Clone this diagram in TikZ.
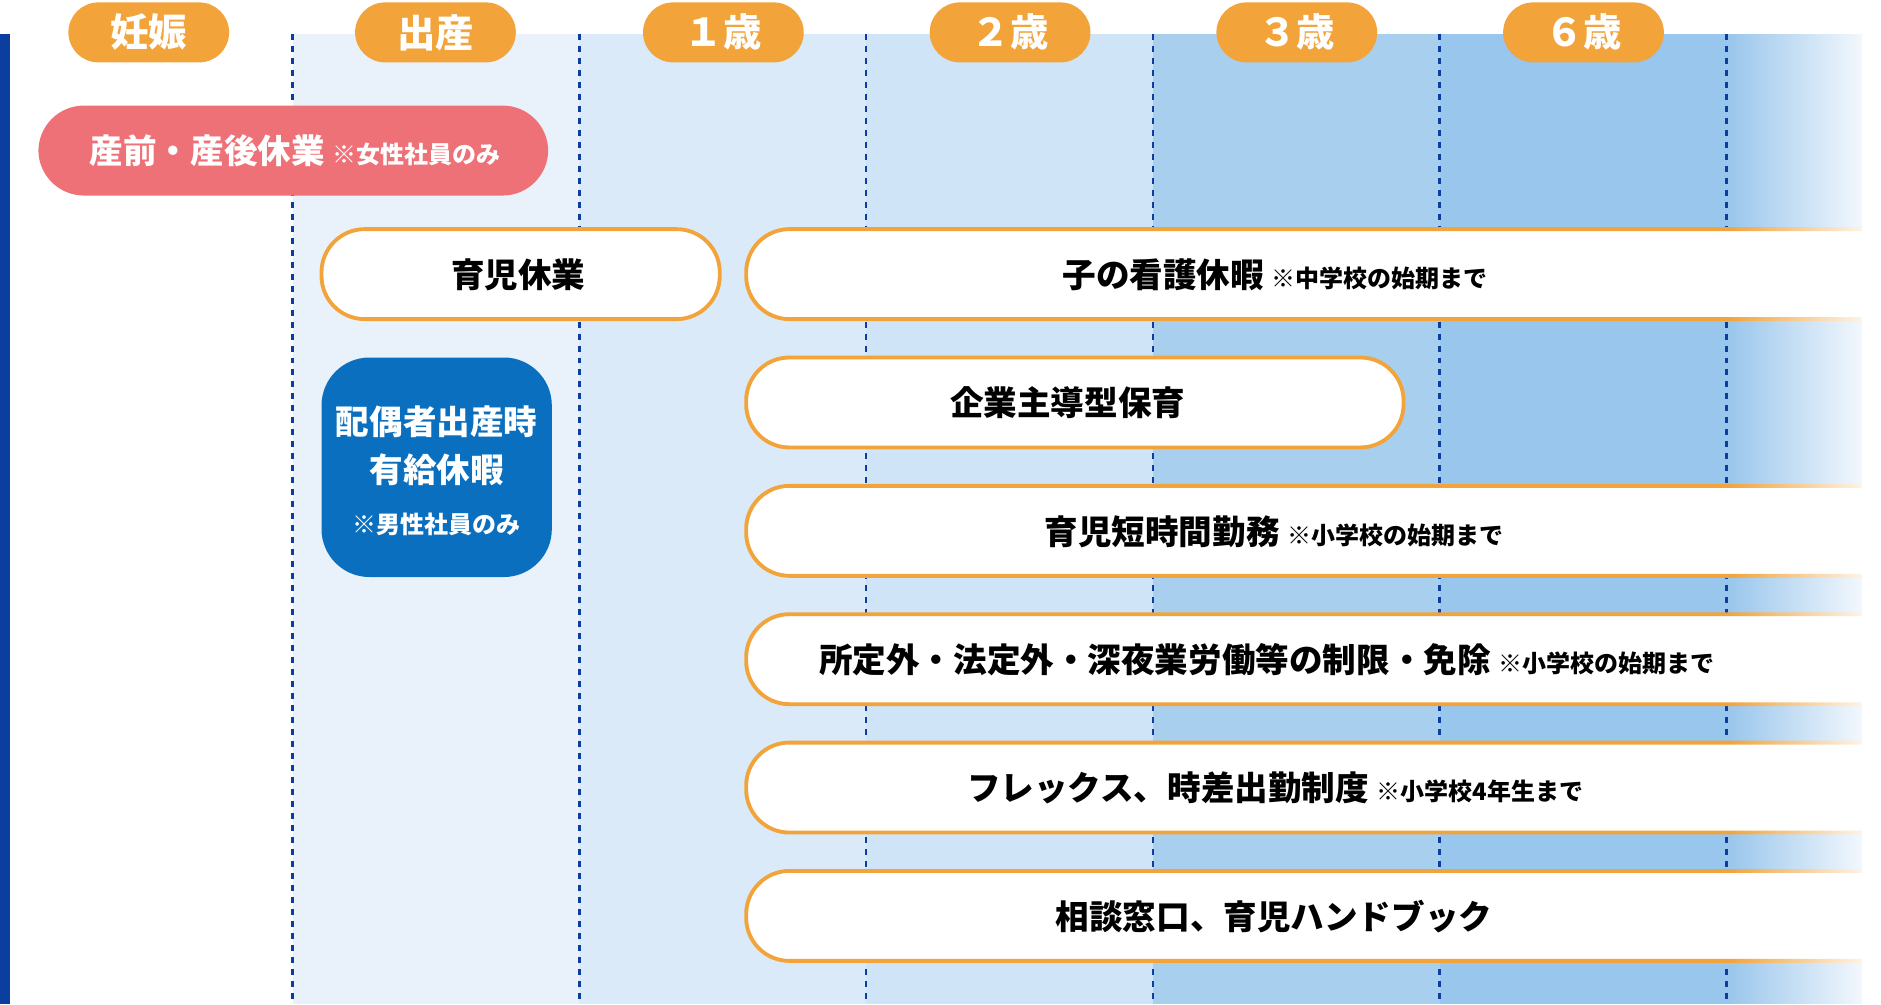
\documentclass[tikz,border=0pt]{standalone}
\usepackage{fontspec}
\setmainfont{Noto Sans CJK JP}
\usetikzlibrary{fadings}
\definecolor{og}{HTML}{F2A33A}
\definecolor{pk}{HTML}{EF7178}
\definecolor{db}{HTML}{0B3E9E}
\definecolor{mb}{HTML}{0A6FBE}
\definecolor{c1}{HTML}{E9F2FB}
\definecolor{c2}{HTML}{DAEAF8}
\definecolor{c3}{HTML}{CFE4F6}
\definecolor{c4}{HTML}{A9CFEF}
\definecolor{c5}{HTML}{99C6EC}
\newcommand\nsz{\fontsize{10}{12}\selectfont}
\tikzset{
 hdr/.style={fill=og,rounded corners=12.5pt},
 hdrtxt/.style={text=white,font=\bfseries\fontsize{16}{18}\selectfont},
 pill/.style={draw=og,line width=1.6pt,fill=white,rounded corners=18pt},
 lbl/.style={font=\bfseries\fontsize{14}{16}\selectfont,text=black},
 notest/.style={font=\bfseries\fontsize{10}{12}\selectfont},
 vdash/.style={db,line width=1.1pt,dash pattern=on 2.5pt off 2.5pt}
}
\begin{document}
\begin{tikzpicture}[x=0.5pt,y=-0.5pt]
\useasboundingbox (0,0) rectangle (1568,837);
\fill[white] (0,0) rectangle (1568,837);
\fill[c1] (244,28) rectangle (483,837);
\fill[c2] (483,28) rectangle (722,837);
\fill[c3] (722,28) rectangle (961,837);
\fill[c4] (961,28) rectangle (1200,837);
\fill[c5] (1200,28) rectangle (1568,837);
\fill[db] (0,28) rectangle (8,837);
\foreach \x in {244,483,722,961,1200,1439} \draw[vdash] (\x,28) -- (\x,837);
\foreach \x/\t in {124/妊娠,363/出産,603/１歳,842/２歳,1081/３歳,1320/６歳}{
 \fill[hdr] (\x-67,2) rectangle (\x+67,52);
 \node[hdrtxt] (h\x) at (\x,27) {\t};
}
\fill[pk,rounded corners=19pt] (32,88) rectangle (457,163);
\node[text=white] (pink) at (246,126) {\bfseries\fontsize{14}{16}\selectfont 産前・産後休業 \nsz ※女性社員のみ};
\draw[pill] (268,191) rectangle (600,266);
\node[lbl] (ikuji) at (432,229) {育児休業};
\draw[pill] (622,191) rectangle (1620,266);
\node[lbl] (kango) at (1063,229) {子の看護休暇 \nsz ※中学校の始期まで};
\draw[pill] (622,298) rectangle (1170,373);
\node[lbl] (kigyo) at (890,336) {企業主導型保育};
\draw[pill] (622,405) rectangle (1620,480);
\node[lbl] (tanji) at (1062,443) {育児短時間勤務 \nsz ※小学校の始期まで};
\draw[pill] (622,512) rectangle (1620,587);
\node[lbl] (shotei) at (1056,550) {所定外・法定外・深夜業労働等の制限・免除 \nsz ※小学校の始期まで};
\draw[pill] (622,619) rectangle (1620,694);
\node[lbl] (flex) at (1063,657) {フレックス、時差出勤制度 \nsz ※小学校4年生まで};
\draw[pill] (622,726) rectangle (1620,801);
\node[lbl] (sodan) at (1062,764) {相談窓口、育児ハンドブック};
\fill[mb,rounded corners=20pt] (268,298) rectangle (460,481);
\node[text=white,align=center,font=\bfseries\fontsize{14}{20}\selectfont] (haigu) at (364,372) {配偶者出産時\\有給休暇};
\node[text=white,notest] (haigun) at (364,437) {※男性社員のみ};
\fill[white,path fading=west] (1440,28) rectangle (1568,837);
\fill[white] (1552,0) rectangle (1568,837);
\end{tikzpicture}
\end{document}
